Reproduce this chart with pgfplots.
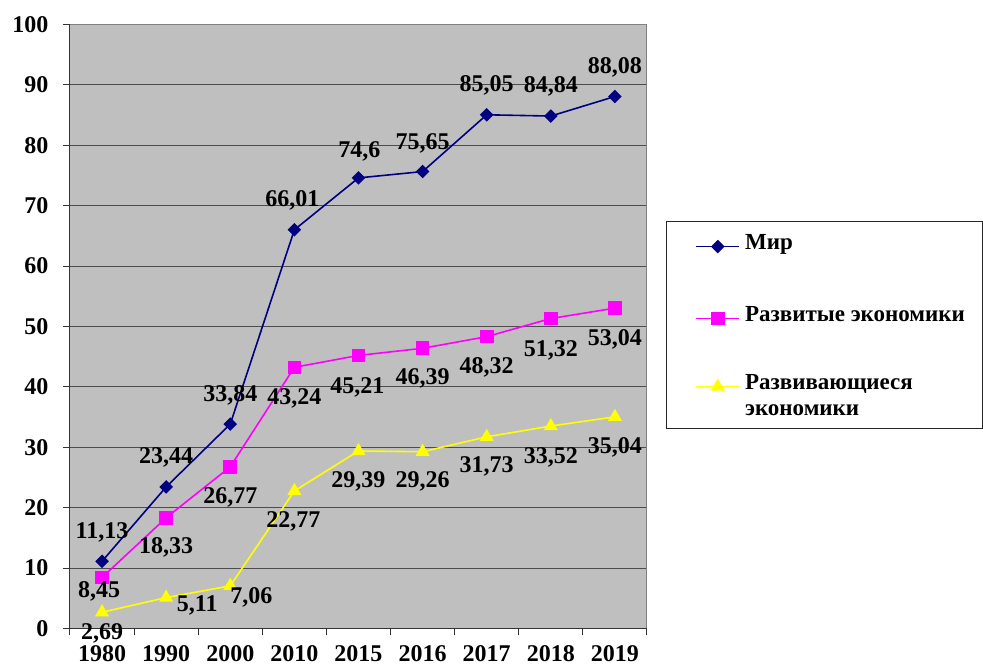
\documentclass[border=0pt]{standalone}
\usepackage{pgfplots}
\pgfplotsset{compat=1.18}
\usepackage{pgfplotstable}
\usepackage{fontspec}
\setmainfont{Liberation Serif}
\definecolor{mir}{RGB}{0,0,128}
\definecolor{razv}{RGB}{255,0,255}
\definecolor{razvi}{RGB}{255,255,0}

\pgfplotstableread{
x y lab dx dy
0 11.13 11,13 0 29
1 23.44 23,44 0 30
2 33.84 33,84 0 29
3 66.01 66,01 -2 29
4 74.6 74,6 1 26
5 75.65 75,65 0 28
6 85.05 85,05 0 29
7 84.84 84,84 0 30
8 88.08 88,08 0 29
}\mir

\pgfplotstableread{
x y lab dx dy
0 8.45 8,45 -3 -14
1 18.33 18,33 0 -30
2 26.77 26,77 0 -31
3 43.24 43,24 0 -31
4 45.21 45,21 -1 -32
5 46.39 46,39 0 -30
6 48.32 48,32 0 -31
7 51.32 51,32 0 -32
8 53.04 53,04 0 -31
}\razv

\pgfplotstableread{
x y lab dx dy
0 2.69 2,69 0 -21
1 5.11 5,11 31 -8
2 7.06 7,06 21 -12
3 22.77 22,77 -1 -30
4 29.39 29,39 0 -30
5 29.26 29,26 0 -30
6 31.73 31,73 0 -30
7 33.52 33,52 0 -31
8 35.04 35,04 0 -31
}\razvi

\pgfplotsset{lbl/.style={nodes near coords, point meta=explicit symbolic,
  visualization depends on={\thisrow{dx}\as\ldx},
  visualization depends on={\thisrow{dy}\as\ldy},
  every node near coord/.append style={anchor=center, xshift=\ldx pt, yshift=\ldy pt,
     font=\fontsize{24}{24}\selectfont\bfseries, text=black}}}

\begin{document}
\begin{tikzpicture}
\begin{axis}[
  name=ax,
  scale only axis, width=577pt, height=604pt,
  xmin=-0.5, xmax=8.5, ymin=0, ymax=100,
  axis x line*=bottom, axis y line*=left,
  axis line style={black!80, line width=1pt, -},
  axis background/.style={fill=black!25},
  xtick={-0.5,0.5,...,8.5},
  xticklabels={},
  extra x ticks={0,1,2,3,4,5,6,7,8},
  extra x tick labels={1980,1990,2000,2010,2015,2016,2017,2018,2019},
  extra x tick style={major tick length=0pt, tick style={draw=none},
     xticklabel style={inner sep=0pt, yshift=-17pt}},
  ytick={0,10,...,100},
  yticklabels={0,10,20,30,40,50,60,70,80,90,100},
  tick align=outside, major tick length=7pt,
  tick style={black!80, line width=1pt},
  ymajorgrids, grid style={black!70, line width=1pt},
  ticklabel style={font=\fontsize{24}{24}\selectfont\bfseries},
  yticklabel style={xshift=-11pt},
  clip=false,
  legend style={at={(1,1)}, anchor=north west, xshift=19pt, yshift=-196.5pt,
     draw=black!85, line width=1pt, fill=white,
     font=\fontsize{23}{26}\selectfont\bfseries,
     inner xsep=16pt, inner ysep=11pt, row sep=48pt, column sep=3pt,
     nodes={inner sep=2pt, anchor=base west, text depth=}},
  legend cell align=left,
  legend image code/.code={\path (0pt,0pt);\draw[#1, mark repeat=2, mark phase=2, yshift=0.3em]
     plot coordinates {(13pt,0pt) (34.5pt,0pt) (56pt,0pt)};},
  after end axis/.code={\draw[black!50, line width=1pt] (rel axis cs:0,1) -- (rel axis cs:1,1) -- (rel axis cs:1,0);},
]
\addplot[mir, line width=1.6pt, mark=square*, mark size=4pt,
  mark options={rotate=45, fill=mir, draw=mir}, lbl]
  table[x=x, y=y, meta=lab] {\mir};
\addlegendentry{Мир}
\addplot[razv, line width=1.6pt, mark=square*, mark size=6pt,
  mark options={fill=razv, draw=razv}, lbl]
  table[x=x, y=y, meta=lab] {\razv};
\addlegendentry{Развитые экономики}
\addplot[razvi, line width=1.6pt, mark=triangle*, mark size=6.5pt,
  mark options={fill=razvi, draw=razvi}, lbl]
  table[x=x, y=y, meta=lab] {\razvi};
\addlegendentry{\vtop{\hbox{Развивающиеся}\hbox{экономики}}}
\end{axis}
\pgfresetboundingbox
\path[use as bounding box] (ax.south west) ++(-70pt,-39.5pt) rectangle ++(983pt,668pt);
\end{tikzpicture}
\end{document}
